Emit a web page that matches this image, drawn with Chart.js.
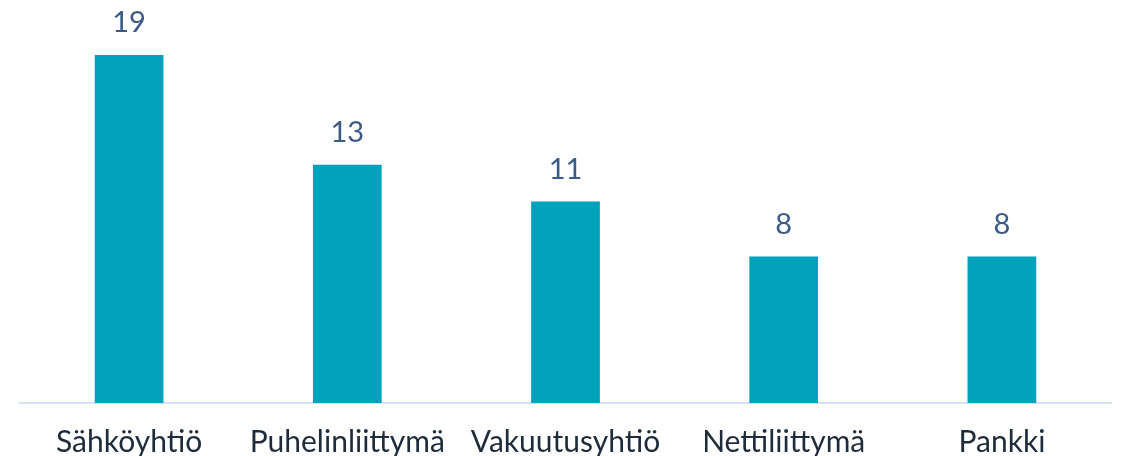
<!DOCTYPE html>
<html>
<head>
<meta charset="utf-8">
<script src="https://cdn.jsdelivr.net/npm/chart.js@4"></script>
<style>
  html, body { margin: 0; padding: 0; background: #fff; }
  #wrap { width: 1122px; height: 456px; }
</style>
</head>
<body>
<div id="wrap"><canvas id="c"></canvas></div>
<script>
// Kategoriat ja arvot
const categories = ['Sähköyhtiö', 'Puhelinliittymä', 'Vakuutusyhtiö', 'Nettiliittymä', 'Pankki'];
const values = [19, 13, 11, 8, 8];

// Arvot palkkien yläpuolelle
const valueLabels = {
    id: 'valueLabels',
    afterDatasetsDraw(chart) {
        const ctx = chart.ctx;
        const meta = chart.getDatasetMeta(0);
        ctx.save();
        ctx.fillStyle = '#3b5a85';
        ctx.font = '29px Lato, sans-serif';
        ctx.textAlign = 'center';
        ctx.textBaseline = 'middle';
        meta.data.forEach((bar, i) => {
            ctx.fillText(String(values[i]), bar.x, bar.y - 32);
        });
        ctx.restore();
    }
};

new Chart(document.getElementById('c'), {
    type: 'bar',
    data: {
        labels: categories,
        datasets: [{
            data: values,
            backgroundColor: '#00a1bd',
            barPercentage: 0.315,
            categoryPercentage: 1
        }]
    },
    options: {
        responsive: true, maintainAspectRatio: false,
        animation: false,
        layout: { padding: { left: 20, right: 11, top: 0, bottom: -25 } },
        scales: {
            x: {
                grid: { display: false, drawTicks: false },
                border: { color: '#d5e3f0', width: 2 },
                ticks: { color: '#1d2b3a', font: { family: 'Lato', size: 30 }, padding: 21, maxRotation: 0 }
            },
            y: { display: false, min: 0, max: 22 }
        },
        plugins: { legend: { display: false }, tooltip: { enabled: false } }
    },
    plugins: [valueLabels]
});
</script>
</body>
</html>
